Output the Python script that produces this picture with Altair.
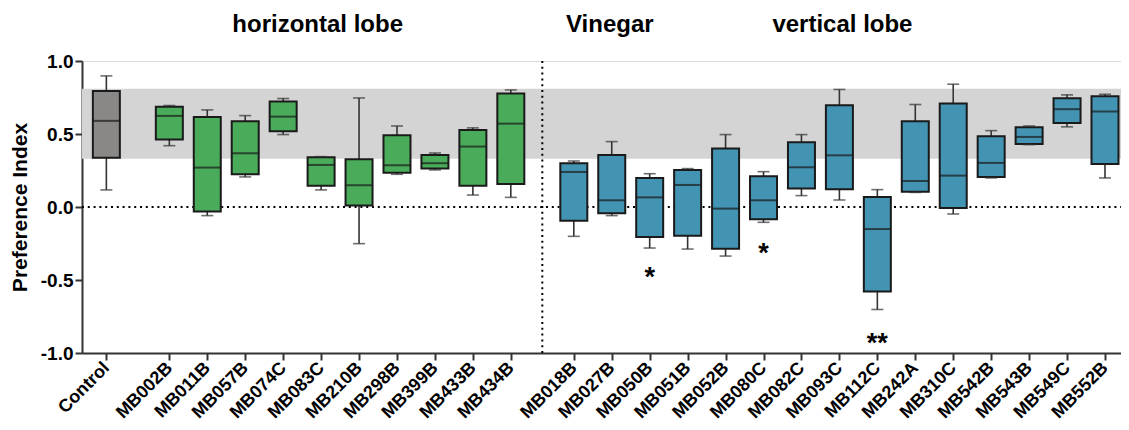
import json
import altair as alt
import pandas as pd

# ---- data ----
names = ["Control",
         "MB002B", "MB011B", "MB057B", "MB074C", "MB083C", "MB210B", "MB298B", "MB399B", "MB433B", "MB434B",
         "MB018B", "MB027B", "MB050B", "MB051B", "MB052B", "MB080C", "MB082C", "MB093C", "MB112C", "MB242A",
         "MB310C", "MB542B", "MB543B", "MB549C", "MB552B"]
groups = ["control"] + ["horizontal"] * 10 + ["vertical"] * 15

wmin = [0.117,
        0.420, -0.059, 0.206, 0.496, 0.117, -0.251, 0.224, 0.254, 0.082, 0.066,
        -0.201, -0.059, -0.281, -0.288, -0.336, -0.105, 0.078, 0.048, -0.702, 0.100,
        -0.048, 0.199, 0.427, 0.549, 0.199]
q1 = [0.338,
      0.462, -0.030, 0.224, 0.519, 0.146, 0.011, 0.235, 0.263, 0.146, 0.158,
      -0.094, -0.043, -0.206, -0.197, -0.286, -0.084, 0.126, 0.121, -0.578, 0.105,
      -0.007, 0.206, 0.432, 0.576, 0.295]
median = [0.590,
          0.624, 0.270, 0.368, 0.619, 0.288, 0.149, 0.286, 0.300, 0.414, 0.571,
          0.240, 0.046, 0.066, 0.151, -0.011, 0.046, 0.272, 0.354, -0.151, 0.178,
          0.215, 0.302, 0.480, 0.670, 0.654]
q3 = [0.795,
      0.686, 0.617, 0.587, 0.722, 0.340, 0.327, 0.491, 0.357, 0.528, 0.777,
      0.300, 0.357, 0.199, 0.254, 0.400, 0.210, 0.443, 0.697, 0.069, 0.587,
      0.709, 0.485, 0.546, 0.745, 0.759]
wmax = [0.898,
        0.695, 0.665, 0.626, 0.743, 0.345, 0.747, 0.555, 0.370, 0.542, 0.802,
        0.315, 0.448, 0.228, 0.263, 0.496, 0.242, 0.496, 0.805, 0.119, 0.702,
        0.841, 0.523, 0.555, 0.768, 0.772]

sig_names = ["MB050B", "MB080C", "MB112C"]
sig_labels = ["*", "*", "**"]
sig_y = [-0.43, -0.265, -0.885]

band_lo, band_hi = 0.33, 0.81

section_titles = ["horizontal lobe", "Vinegar", "vertical lobe"]
section_x = [5.57, 13.27, 19.40]
divider_x = 11.49

# ---- layout (category slots with gaps between groups) ----
gap = 0.66
pos = []
slot = 0.0
prev = None
for g in groups:
    if prev is not None:
        slot += 1.0 + (gap if g != prev else 0.0)
    pos.append(round(slot, 2))
    prev = g

pos_of = dict(zip(names, pos))
colors = {"control": "#8a8886", "horizontal": "#4aac5a", "vertical": "#4393b3"}

df = pd.DataFrame({"name": names, "group": groups, "x": pos, "wmin": wmin, "q1": q1,
                   "median": median, "q3": q3, "wmax": wmax})
sig_df = pd.DataFrame({"x": [pos_of[n] for n in sig_names], "y": sig_y, "label": sig_labels})
title_df = pd.DataFrame({"x": section_x, "label": section_titles})

FONT = "Liberation Sans"
W, H = 1039, 292
xdom = [-0.51, 26.61]

label_expr = f"{json.dumps(names)}[indexof({json.dumps(pos)}, datum.value)]"
ylabel_expr = "datum.value < 0 ? '-' + format(abs(datum.value), '.1f') : format(datum.value, '.1f')"

xscale = alt.Scale(domain=xdom, nice=False, zero=False)
yscale = alt.Scale(domain=[-1, 1], nice=False, zero=False)

xaxis = alt.Axis(values=pos, labelExpr=label_expr, labelAngle=-45, labelAlign="right",
                 labelBaseline="middle", labelFont=FONT, labelFontSize=18, labelFontWeight="bold",
                 labelColor="#000", labelPadding=5, labelOverlap=False, labelFlush=False,
                 labelBound=False, ticks=True, tickSize=7, tickWidth=2, tickColor="#333",
                 domainColor="#333", domainWidth=2, grid=False, title=None)
yaxis = alt.Axis(values=[-1, -0.5, 0, 0.5, 1], labelExpr=ylabel_expr, labelFont=FONT, labelFontSize=19,
                 labelFontWeight="bold", labelColor="#000", labelPadding=2, tickSize=7, tickWidth=2,
                 tickColor="#333", domainColor="#333", domainWidth=2, grid=False,
                 title="Preference Index", titleFont=FONT, titleFontSize=21, titleFontWeight="bold",
                 titleColor="#000", titleAngle=270, titleX=-62, titleY=H / 2,
                 titleAlign="center", titleBaseline="middle")

base = alt.Chart(df)

band = alt.Chart(pd.DataFrame({"lo": [band_lo], "hi": [band_hi]})).mark_rect(color="#d4d4d4").encode(
    x=alt.value(0), x2=alt.value(W),
    y=alt.Y("lo:Q", scale=yscale, axis=yaxis), y2="hi:Q")

zero = alt.Chart(pd.DataFrame({"y": [0]})).mark_rule(color="#000", strokeWidth=2, strokeDash=[2, 3.8]).encode(
    x=alt.value(0), x2=alt.value(W), y=alt.Y("y:Q", scale=yscale))

divider = alt.Chart(pd.DataFrame({"x": [divider_x], "y1": [-1], "y2": [1]})).mark_rule(
    color="#000", strokeWidth=2, strokeDash=[2, 3.8]).encode(
    x=alt.X("x:Q", scale=xscale, axis=xaxis), y=alt.Y("y1:Q", scale=yscale), y2="y2:Q")

whisk = base.mark_rule(color="#333", strokeWidth=1.6).encode(
    x=alt.X("x:Q", scale=xscale), y=alt.Y("wmin:Q", scale=yscale), y2="wmax:Q")

color_enc = alt.Color("group:N", scale=alt.Scale(domain=list(colors.keys()), range=list(colors.values())),
                      legend=None)
box = base.mark_bar(size=27, stroke="#1a1a1a", strokeWidth=2).encode(
    x=alt.X("x:Q", scale=xscale), y=alt.Y("q1:Q", scale=yscale), y2="q3:Q", color=color_enc)

med = base.mark_tick(orient="horizontal", size=27, thickness=2, color="#1a1a1a").encode(
    x=alt.X("x:Q", scale=xscale), y=alt.Y("median:Q", scale=yscale))
cap_lo = base.mark_tick(orient="horizontal", size=12, thickness=1.6, color="#333").encode(
    x=alt.X("x:Q", scale=xscale), y=alt.Y("wmin:Q", scale=yscale))
cap_hi = base.mark_tick(orient="horizontal", size=12, thickness=1.6, color="#333").encode(
    x=alt.X("x:Q", scale=xscale), y=alt.Y("wmax:Q", scale=yscale))

stars = alt.Chart(sig_df).mark_text(font=FONT, fontSize=27, fontWeight="bold", color="#000",
                                    baseline="alphabetic", dy=16).encode(
    x=alt.X("x:Q", scale=xscale), y=alt.Y("y:Q", scale=yscale), text="label:N")

titles = alt.Chart(title_df).mark_text(font=FONT, fontSize=24, fontWeight="bold", color="#000",
                                       baseline="middle").encode(
    x=alt.X("x:Q", scale=xscale), y=alt.value(-36), text="label:N")

chart = alt.layer(band, zero, divider, whisk, box, med, cap_lo, cap_hi, stars, titles).properties(
    width=W, height=H, autosize=alt.AutoSizeParams(type="none"),
    padding={"left": 74, "top": 53, "right": 0, "bottom": 69}
).configure_view(stroke=None).configure(background="white")

chart.save("out.html", embed_options={"renderer": "svg", "actions": False})
